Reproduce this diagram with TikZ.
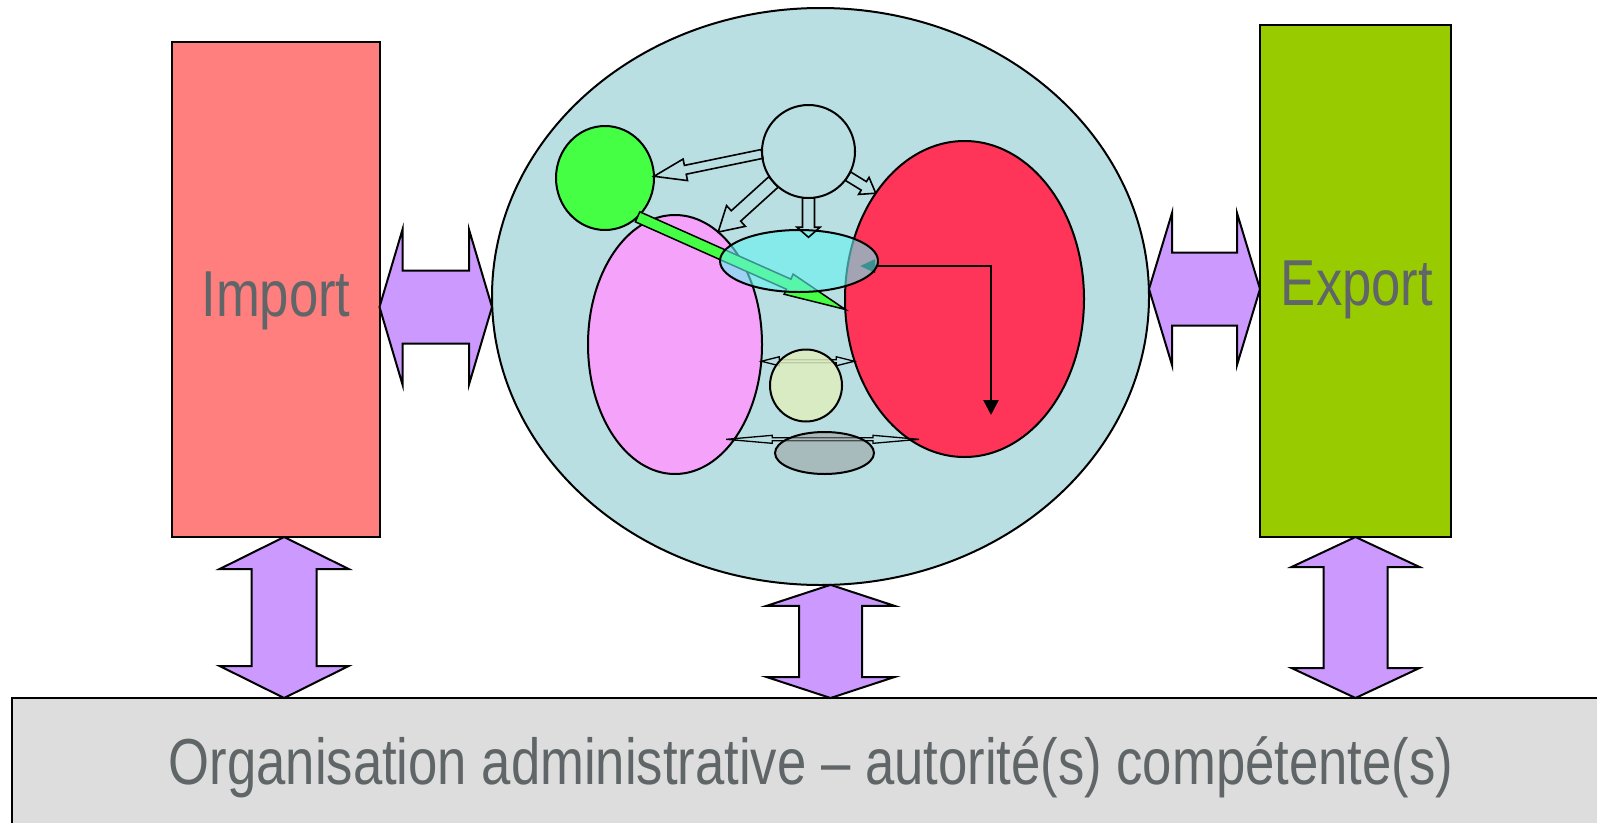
\documentclass[tikz,border=0pt]{standalone}
\usepackage{fontspec}
\setmainfont{Liberation Sans}[FakeStretch=0.81]
\usetikzlibrary{calc,shapes.geometric,arrows.meta}

\definecolor{importred}{RGB}{255,127,127}
\definecolor{exportgreen}{RGB}{153,204,0}
\definecolor{bandgray}{RGB}{221,221,221}
\definecolor{linkviolet}{RGB}{204,153,255}
\definecolor{coreteal}{RGB}{185,223,227}
\definecolor{leafgreen}{RGB}{68,255,68}
\definecolor{rosepink}{RGB}{245,163,250}
\definecolor{scarlet}{RGB}{255,52,89}
\definecolor{aqua}{RGB}{100,240,240}
\definecolor{paleolive}{RGB}{222,238,190}
\definecolor{ovalgray}{RGB}{150,150,150}
\definecolor{labelgray}{RGB}{96,102,104}

% block arrow, one head: start, end, shaft half width, head half width, head length
\newcommand\sarrow[6][]{%
  \draw[#1] let \p1=($(#3)-(#2)$), \n1={atan2(\y1,\x1)} in
    ($(#2)+(\n1+90:#4pt)$) -- ($(#3)+(\n1+180:#6pt)+(\n1+90:#4pt)$)
    -- ($(#3)+(\n1+180:#6pt)+(\n1+90:#5pt)$) -- (#3)
    -- ($(#3)+(\n1+180:#6pt)+(\n1-90:#5pt)$) -- ($(#3)+(\n1+180:#6pt)+(\n1-90:#4pt)$)
    -- ($(#2)+(\n1-90:#4pt)$) -- cycle;}
% block arrow, two heads
\newcommand\darrow[6][]{%
  \draw[#1] let \p1=($(#3)-(#2)$), \n1={atan2(\y1,\x1)} in
    (#2) -- ($(#2)+(\n1:#6pt)+(\n1+90:#5pt)$) -- ($(#2)+(\n1:#6pt)+(\n1+90:#4pt)$)
    -- ($(#3)+(\n1+180:#6pt)+(\n1+90:#4pt)$) -- ($(#3)+(\n1+180:#6pt)+(\n1+90:#5pt)$)
    -- (#3)
    -- ($(#3)+(\n1+180:#6pt)+(\n1-90:#5pt)$) -- ($(#3)+(\n1+180:#6pt)+(\n1-90:#4pt)$)
    -- ($(#2)+(\n1:#6pt)+(\n1-90:#4pt)$) -- ($(#2)+(\n1:#6pt)+(\n1-90:#5pt)$) -- cycle;}

\begin{document}
\begin{tikzpicture}[x=1pt,y=-1pt,line width=2pt,
  every node/.style={inner sep=0pt,outer sep=0pt},
  bigtext/.style={anchor=base,text=labelgray,font=\fontsize{65}{78}\selectfont}]
\useasboundingbox (0,0) rectangle (1597,822);

	\node[draw,fill=importred,minimum width=208pt,minimum height=495pt] (import) at (275.5,289.5) {};
	\node[draw,fill=exportgreen,minimum width=191pt,minimum height=512pt] (export) at (1355.5,281) {};
	\node[draw,fill=bandgray,minimum width=1598pt,minimum height=150pt,anchor=north west] (admin) at (12,698) {};
	\node[bigtext] (importlbl) at (276,316) {Import};
	\node[bigtext] (exportlbl) at (1357,305) {Export};
	\node[bigtext] (adminlbl) at (811,784) {Organisation administrative – autorité(s) compétente(s)};

	% the inner system
	\node[draw,ellipse,fill=coreteal,minimum width=657pt,minimum height=577pt] (core) at (820.5,296.5) {};
	\node[draw,ellipse,fill=rosepink,minimum width=174pt,minimum height=259pt] (pink) at (675,344.5) {};
	\node[draw,ellipse,fill=scarlet,minimum width=239pt,minimum height=316pt] (red) at (964.5,299) {};
	\node[draw,ellipse,fill=leafgreen,minimum width=98pt,minimum height=104pt] (leaf) at (605,178) {};
	\node[draw,circle,minimum size=93pt] (hub) at (808.5,151.5) {};

	\sarrow[fill=leafgreen,line width=1.5pt]{leaf.-50.5}{red.185.7}{5.5}{11}{62}
	\coordinate (bs) at (860,266);
	\coordinate (be) at (991,415);
	\draw[line width=2.5pt,{Triangle[length=15pt,width=13pt]}-{Triangle[length=15pt,width=15pt]}] (bs) -| (be);

	\node[draw,ellipse,fill=aqua,fill opacity=.6,minimum width=158pt,minimum height=62pt] (cyan) at (799,261) {};

	\sarrow[line width=1.6pt]{hub.183}{leaf.2.5}{4.5}{11}{32}
	\sarrow[line width=1.6pt]{hub.221}{pink.69}{7}{14}{24}
	\coordinate (hd) at (hub.south |- cyan.155);
	\sarrow[line width=1.6pt]{hub.south}{hd}{6}{11.5}{10}
	\sarrow[line width=1.6pt]{hub.-32}{red.130}{5}{10}{14}

	\coordinate (ua) at (pink.-11.6);
	\coordinate (ub) at (ua -| red.209.9);
	\coordinate (lm) at (pink.-58);
	\coordinate (ln) at (lm -| red.247.5);
	\coordinate (la) at ($(lm)!-8pt!(ln)$);
	\coordinate (lb) at ($(ln)!-13pt!(lm)$);
	\darrow[line width=1.3pt]{ua}{ub}{1.5}{4.5}{18}
	\darrow[line width=1.3pt]{la}{lb}{1.5}{4}{46}

	\node[draw,circle,fill=paleolive,fill opacity=.85,minimum size=72pt] (olive) at (806,385.5) {};
	\node[draw,ellipse,fill=ovalgray,fill opacity=.5,minimum width=99pt,minimum height=42pt] (oval) at (824.5,453) {};

	% links to the outside
	\coordinate (lh) at ($(import.east)+(0,17.5)$);
	\coordinate (lc) at (core.west |- lh);
	\darrow[fill=linkviolet]{lh}{lc}{36.5}{77.5}{23}
	\coordinate (rh) at ($(export.west)+(0,8)$);
	\coordinate (rc) at (core.east |- rh);
	\darrow[fill=linkviolet]{rc}{rh}{36.5}{76}{23}
	\coordinate (ia) at (import.-88.03);
	\coordinate (ib) at (ia |- admin.north);
	\darrow[fill=linkviolet]{ia}{ib}{32.5}{64.5}{32}
	\coordinate (ca) at (core.-88.5);
	\coordinate (cb) at (ca |- admin.north);
	\darrow[fill=linkviolet]{ca}{cb}{31.5}{64}{21}
	\coordinate (ea) at (export.south);
	\coordinate (eb) at (ea |- admin.north);
	\darrow[fill=linkviolet]{ea}{eb}{32}{64}{30}
\end{tikzpicture}
\end{document}
